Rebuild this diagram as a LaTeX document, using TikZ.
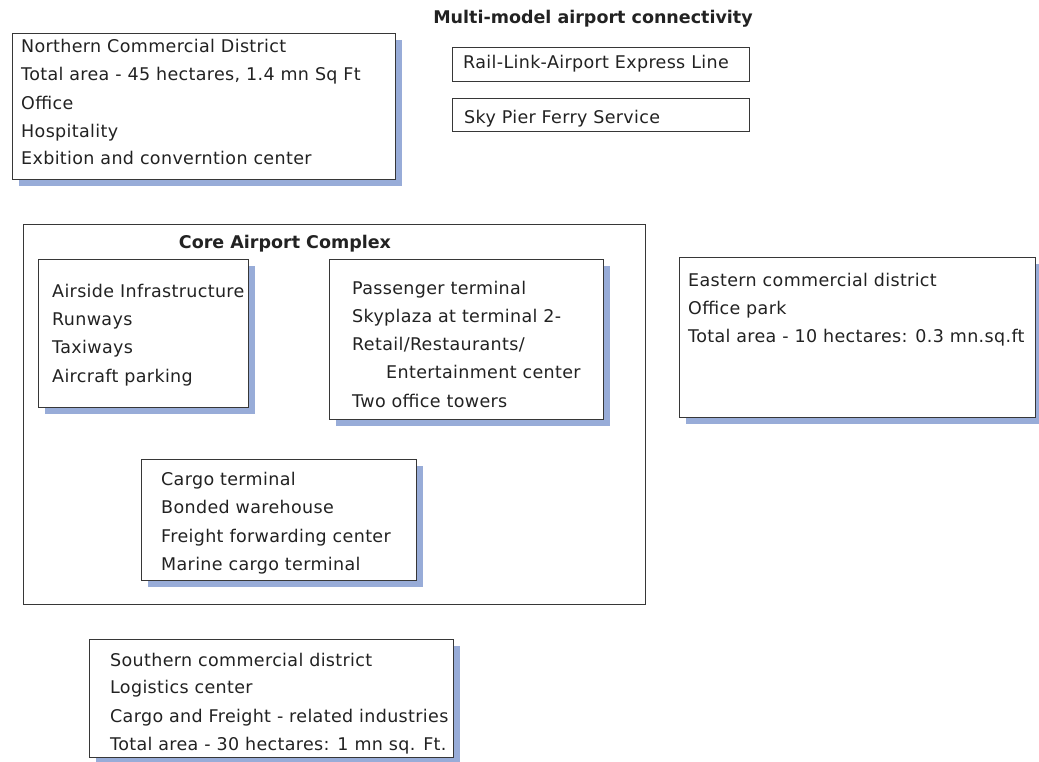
\documentclass[tikz,border=0pt]{standalone}
\usepackage{fontspec}
\setmainfont{DejaVu Sans}[LetterSpace=2, BoldFeatures={LetterSpace=0}]
\usetikzlibrary{shadows}
\definecolor{shadowblue}{RGB}{152,172,216}
\definecolor{frame}{RGB}{55,55,55}
\definecolor{ink}{RGB}{34,34,34}
\tikzset{
  box/.style={draw=frame, line width=0.9pt, fill=white, inner sep=0pt, anchor=north west},
  sbox/.style={box, drop shadow={shadow xshift=7pt, shadow yshift=-7pt, fill=shadowblue, opacity=1}},
  txt/.style={anchor=base west, inner sep=0pt, text=ink, font=\fontsize{17.5}{21}\selectfont},
  head/.style={anchor=base, inner sep=0pt, text=ink, font=\fontsize{17.5}{21}\selectfont\bfseries}
}
\begin{document}
\begin{tikzpicture}[x=1pt, y=-1pt]
\useasboundingbox (0,0) rectangle (1039,761);

% outer frame of the core airport complex
\node[box, minimum width=622pt, minimum height=380pt] (core) at (23,224) {};

% boxes
\node[sbox, minimum width=383pt, minimum height=146pt] (north) at (12,33) {};
\node[box, minimum width=297pt, minimum height=34pt] (rail) at (452,47) {};
\node[box, minimum width=297pt, minimum height=33pt] (ferry) at (452,98) {};
\node[sbox, minimum width=210pt, minimum height=148pt] (airside) at (38,259) {};
\node[sbox, minimum width=274pt, minimum height=160pt] (pax) at (329,259) {};
\node[sbox, minimum width=275pt, minimum height=121pt] (cargo) at (141,459) {};
\node[sbox, minimum width=356pt, minimum height=160pt] (east) at (679,257) {};
\node[sbox, minimum width=364pt, minimum height=118pt] (south) at (89,639) {};

% headings
\node[head] (title) at (593,23) {Multi-model airport connectivity};
\node[head] (coretitle) at (285,248) {Core Airport Complex};

% northern commercial district
\node[txt] (n1) at (21,52) {Northern Commercial District};
\node[txt] (n2) at (21,80) {Total area - 45 hectares, 1.4 mn Sq Ft};
\node[txt] (n3) at (21,109) {Office};
\node[txt] (n4) at (21,137) {Hospitality};
\node[txt] (n5) at (21,164) {Exbition and converntion center};

% connectivity
\node[txt] (r1) at (463,68) {Rail-Link-Airport Express Line};
\node[txt] (f1) at (464,123) {Sky Pier Ferry Service};

% airside
\node[txt] (a1) at (52,297) {Airside Infrastructure};
\node[txt] (a2) at (52,325) {Runways};
\node[txt] (a3) at (52,353) {Taxiways};
\node[txt] (a4) at (52,382) {Aircraft parking};

% passenger terminal
\node[txt] (p1) at (352,294) {Passenger terminal};
\node[txt] (p2) at (352,322) {Skyplaza at terminal 2-};
\node[txt] (p3) at (352,350) {Retail/Restaurants/};
\node[txt] (p4) at (386,378) {Entertainment center};
\node[txt] (p5) at (352,407) {Two office towers};

% cargo
\node[txt] (c1) at (161,485) {Cargo terminal};
\node[txt] (c2) at (161,513) {Bonded warehouse};
\node[txt] (c3) at (161,542) {Freight forwarding center};
\node[txt] (c4) at (161,570) {Marine cargo terminal};

% eastern commercial district
\node[txt] (e1) at (688,286) {Eastern commercial district};
\node[txt] (e2) at (688,314) {Office park};
\node[txt] (e3) at (688,342) {Total area - 10 hectares: 0.3 mn.sq.ft};

% southern commercial district
\node[txt] (s1) at (110,666) {Southern commercial district};
\node[txt] (s2) at (110,693) {Logistics center};
\node[txt] (s3) at (110,722) {Cargo and Freight - related industries};
\node[txt] (s4) at (110,750) {Total area - 30 hectares: 1 mn sq. Ft.};
\end{tikzpicture}
\end{document}
